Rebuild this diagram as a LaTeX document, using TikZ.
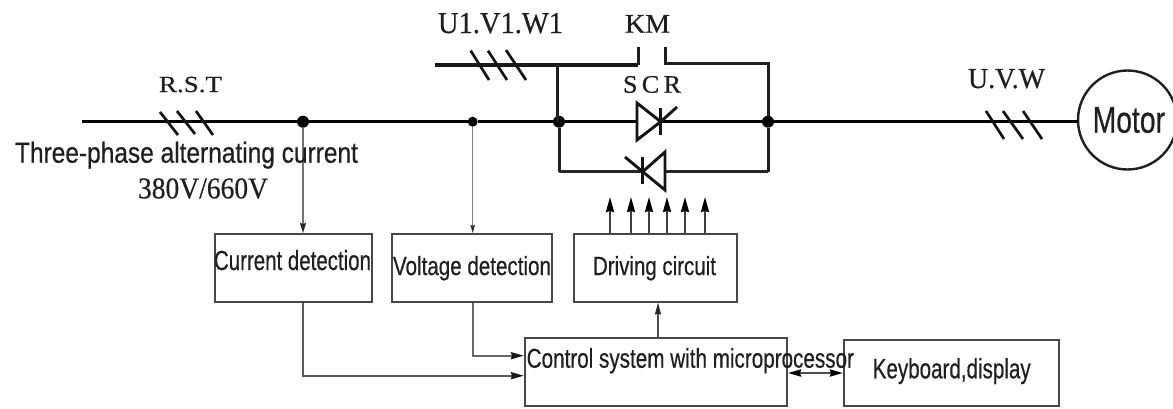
\documentclass[tikz,border=0pt]{standalone}
\usepackage{graphicx}
\usepackage{fontspec}
\setmainfont[FakeBold=0.5]{Liberation Serif}
\newfontfamily\arialfont[FakeBold=0.6]{Liberation Sans}
\usetikzlibrary{arrows.meta}
\newcommand{\fitserif}[3]{\resizebox{#1pt}{#2pt}{\fontsize{20}{20}\selectfont #3}}
\newcommand{\fitsans}[3]{\resizebox{#1pt}{#2pt}{\arialfont\fontsize{20}{20}\selectfont #3}}
\tikzset{
  lbl/.style={anchor=base west,inner sep=0pt,outer sep=0pt,text=black!88},
  blockbox/.style={draw=black!72,line width=2pt,inner sep=0pt,anchor=north west},
  junction/.style={circle,fill=black,inner sep=0pt,minimum size=12pt},
  bus/.style={line width=3.2pt,black},
  fatbus/.style={line width=4.4pt,black!90},
  branch/.style={line width=3pt,black!88},
  lowbranch/.style={line width=2.5pt,black!85},
  tick/.style={line width=2.7pt,black!92},
  thy/.style={line width=2.9pt,black!92,line join=miter},
  sense/.style={line width=1.6pt,black!55,-{Stealth[length=10pt,width=6pt,inset=1pt,black!85]}},
  sensethin/.style={line width=1.3pt,black!50,-{Stealth[length=8pt,width=4.5pt,inset=1pt,black!85]}},
  feed/.style={line width=2.2pt,black!65,-{Stealth[length=13pt,width=7pt,inset=1pt,black!90]}},
  gatearrow/.style={line width=2pt,black!75,-{Stealth[length=15pt,width=8pt,inset=1pt,black]}},
  bothway/.style={line width=2.2pt,black!70,{Stealth[length=13pt,width=7pt,inset=1pt,black]}-{Stealth[length=13pt,width=7pt,inset=1pt,black]}}
}
\begin{document}
\begin{tikzpicture}[x=1pt,y=-1pt]
\useasboundingbox (0,0) rectangle (1173,408);
% blocks
\node[blockbox,minimum width=157.5pt,minimum height=67.5pt] (cur) at (213.5,233) {};
\node[blockbox,minimum width=160.5pt,minimum height=67.5pt] (vol) at (390.5,233) {};
\node[blockbox,minimum width=163pt,minimum height=67.5pt] (drv) at (573,233) {};
\node[blockbox,minimum width=262pt,minimum height=68pt] (ctl) at (524,337) {};
\node[blockbox,minimum width=215pt,minimum height=66pt] (key) at (843,339) {};
\node[draw=black!88,line width=2.4pt,circle,minimum size=99pt,inner sep=0pt] (mot) at (1127.5,120) {};
% junctions and free ends
\node[junction] (j1) at (303,121.7) {};
\node[junction,minimum size=10pt] (j2) at (472.7,121.7) {};
\node[junction] (j3) at (559,121.7) {};
\node[junction] (j4) at (768,121.7) {};
\coordinate (start) at (82,121.7);
\coordinate (topstart) at (435,65);
\coordinate (kml) at (638,65);
\coordinate (kmlt) at (638,47);
\coordinate (kmr) at (665,63);
\coordinate (kmrt) at (665,47);
\coordinate (kmc) at (768,63);
\coordinate (topj) at (557.5,65);
\coordinate (lowl) at (559,171.7);
\coordinate (lowr) at (768,171.7);
\coordinate (busend) at (1078,121.7);
% thyristor anchors
\coordinate (ta) at (637,121.7);
\coordinate (tk) at (660.7,121.7);
\coordinate (ba) at (665,171.7);
\coordinate (bk) at (642.7,171.7);
% main bus
\draw[bus] (start) -- (j1) -- (j2) -- (j3) -- (ta);
\draw[bus] (tk) -- (j4) -- (busend);
% upper feed and KM contact
\draw[fatbus] (topstart) -- (kml);
\draw[branch] (kml) -- (kmlt);
\draw[branch] (kmrt) -- (kmr) -- (kmc) -- (j4);
\draw[branch] (topj |- kml) -- (topj |- j3);
\draw[branch] (j3) -- (lowl);
\draw[lowbranch] (lowl) -- (bk);
\draw[lowbranch] (ba) -- (lowr);
\draw[branch] (lowr) -- (j4);
% thyristors
\draw[thy] (637,103) -- (tk) -- (637,140) -- cycle;
\draw[thy] (660.7,108) -- (660.7,135);
\draw[thy] (tk) -- (677,107);
\draw[thy] (665,152) -- (bk) -- (665,190) -- cycle;
\draw[thy] (642.7,157) -- (642.7,184);
\draw[thy] (bk) -- (625,157);
% three-phase ticks
\foreach \a/\b/\c/\d in {160/112/178/135,177/111/195/134,196/111/213/135,
  470.7/50.7/489/80,488/50.7/507/80,506/50/526/80,
  986/111/1004/139,1003/111/1023/139,1023/111/1042/139}
  \draw[tick] (\a,\b) -- (\c,\d);
% signal connectors
\draw[sense] (j1) -- (j1 |- cur.north);
\draw[sensethin] (j2) -- (j2 |- vol.north);
\coordinate (curb) at (303,375.7);
\coordinate (volb) at (473,355.7);
\draw[feed] (cur.south -| j1) -- (curb) -- (curb -| ctl.west);
\draw[line width=1.8pt,black!60,-{Stealth[length=13pt,width=7pt,inset=1pt,black!90]}] (vol.south -| volb) -- (volb) -- (volb -| ctl.west);
\coordinate (up) at (658,300);
\draw[line width=1.6pt,black!70,-{Stealth[length=12pt,width=6pt,inset=1pt,black!85]}] (ctl.north -| up) -- (drv.south -| up);
\foreach \x/\n in {610/a,631/b,649/c,667/d,685/e,705/f}{
  \coordinate (g\n) at (\x,197);
  \draw[gatearrow] (drv.north -| g\n) -- (g\n);
}
\coordinate (dbl) at (800,373);
\draw[bothway] (dbl -| ctl.east) -- (dbl -| key.west);
% labels
\node[lbl] (trst) at (159,92) {\fitserif{63}{15.3}{R.S.T}};
\node[lbl] (tac) at (15,162.7) {\fitsans{343}{21}{Three-phase alternating current}};
\node[lbl] (tvolt) at (138,198.3) {\fitserif{130}{20}{380V/660V}};
\node[lbl] (tu1) at (438,33) {\fitserif{125}{20}{U1.V1.W1}};
\node[lbl] (tkm) at (625,32.7) {\fitserif{45}{17.7}{KM}};
\node[lbl] (tscr) at (623,92.7) {\fitserif{58}{16.7}{S\,C\,R}};
\node[lbl] (tuvw) at (968,88) {\fitserif{77}{19}{U.V.W}};
\node[lbl] (tmot) at (1092.7,132.7) {\fitsans{72.3}{25.7}{Motor}};
\node[lbl] (tcur) at (214,270) {\fitsans{157}{20}{Current detection}};
\node[lbl] (tvol) at (393,275) {\fitsans{158}{19}{Voltage detection}};
\node[lbl] (tdrv) at (593,275) {\fitsans{123}{19}{Driving circuit}};
\node[lbl] (tctl) at (526.7,367.7) {\fitsans{327.3}{19.7}{Control system with microprocessor}};
\node[lbl] (tkey) at (872.7,378.3) {\fitsans{158}{20.3}{Keyboard,display}};
\end{tikzpicture}
\end{document}
